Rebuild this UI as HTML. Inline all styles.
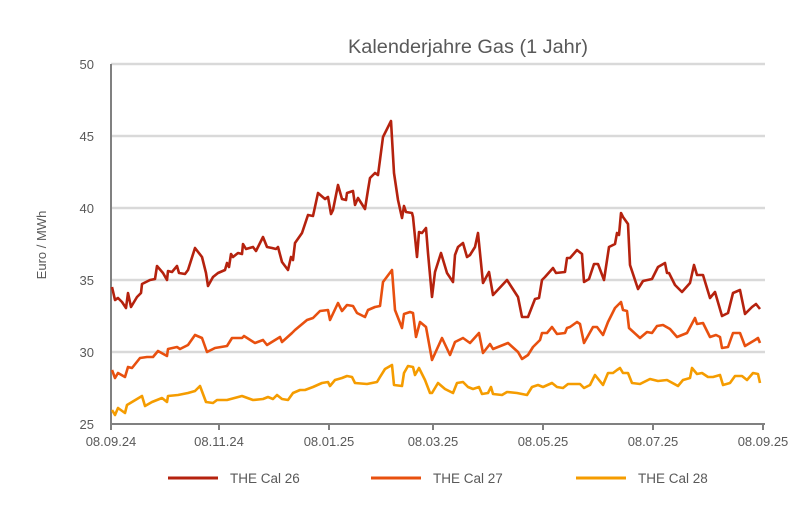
<!DOCTYPE html>
<html><head><meta charset="utf-8"><style>
body{margin:0;background:#fff}
svg text{font-family:"Liberation Sans",sans-serif;fill:#595959}
</style></head><body>
<svg width="802" height="506" viewBox="0 0 802 506" xmlns="http://www.w3.org/2000/svg">
<rect width="802" height="506" fill="#fff"/>
<text x="468" y="53" font-size="19" text-anchor="middle" textLength="240" lengthAdjust="spacingAndGlyphs">Kalenderjahre Gas (1 Jahr)</text>
<g stroke="#d9d9d9" stroke-width="2.5">
<line x1="111" y1="64" x2="765" y2="64"/><line x1="111" y1="136" x2="765" y2="136"/>
<line x1="111" y1="208" x2="765" y2="208"/><line x1="111" y1="280" x2="765" y2="280"/>
<line x1="111" y1="352" x2="765" y2="352"/>
</g>
<g stroke="#808080" stroke-width="2">
<line x1="111" y1="64" x2="111" y2="425"/><line x1="110" y1="424" x2="765" y2="424"/>
<line x1="111" y1="424" x2="111" y2="430"/><line x1="219" y1="424" x2="219" y2="430"/>
<line x1="329" y1="424" x2="329" y2="430"/><line x1="433" y1="424" x2="433" y2="430"/>
<line x1="543" y1="424" x2="543" y2="430"/><line x1="653" y1="424" x2="653" y2="430"/>
<line x1="763" y1="424" x2="763" y2="430"/>
</g>
<g font-size="13" text-anchor="end">
<text x="94" y="69">50</text><text x="94" y="141">45</text><text x="94" y="213">40</text>
<text x="94" y="285">35</text><text x="94" y="357">30</text><text x="94" y="429">25</text>
</g>
<g font-size="13" text-anchor="middle">
<text x="111" y="446">08.09.24</text><text x="219" y="446">08.11.24</text><text x="329" y="446">08.01.25</text>
<text x="433" y="446">08.03.25</text><text x="543" y="446">08.05.25</text><text x="653" y="446">08.07.25</text>
<text x="763" y="446">08.09.25</text>
</g>
<text transform="translate(46,245) rotate(-90)" font-size="13" text-anchor="middle">Euro / MWh</text>
<g fill="none" stroke-width="2.6" stroke-linejoin="round">
<polyline stroke="#f59c00" points="112,410 115,415 118,408 125,413 127,405 132,402 142,396 145,406 152,402 162,398 167,402 168,396 178,395 188,393 195,391 200,386 206,402 213,403 217,400 227,400 242,396 253,400 263,399 268,397 273,399 277,395 282,399 288,400 293,393 300,390 305,390 313,387 322,383 328,382 330,386 335,380 342,378 347,376 352,377 355,383 367,384 377,382 380,377 385,369 392,365 394,385 402,386 404,373 408,366 413,367 415,375 419,368 425,380 430,393 432,393 438,383 445,389 453,393 457,383 463,382 468,387 473,389 479,387 482,394 488,393 491,387 493,394 502,395 507,392 517,393 527,395 532,387 538,385 543,387 552,383 557,387 563,388 568,384 580,384 584,388 590,385 595,375 603,385 608,373 613,373 617,370 620,368 623,373 628,373 632,383 640,384 650,379 658,381 667,380 678,386 683,380 690,378 692,368 697,374 702,373 708,377 713,377 720,375 723,385 730,383 735,376 742,376 747,380 753,373 758,374 760,383"/>
<polyline stroke="#e8500f" points="112,370 115,378 118,373 125,377 128,367 132,368 140,358 147,357 153,357 158,351 167,356 168,349 177,347 180,349 188,345 195,335 202,338 207,352 215,348 227,346 232,338 242,338 244,336 255,343 263,340 267,345 280,337 282,342 292,333 295,330 307,320 313,318 320,311 328,310 330,320 338,303 342,311 347,305 353,306 357,313 365,317 368,310 375,307 380,306 383,282 392,270 395,310 402,328 404,314 410,312 413,313 416,337 420,322 426,327 432,360 442,338 450,355 455,342 463,338 470,343 479,333 483,353 490,344 493,349 508,343 518,352 522,359 528,355 533,347 540,340 542,333 547,333 552,327 557,334 565,333 567,328 570,327 577,322 580,324 584,343 593,327 597,327 603,335 608,322 615,308 621,302 623,310 627,311 629,328 640,338 647,332 652,333 657,326 663,325 670,329 677,337 687,333 695,318 697,324 703,323 710,337 716,335 720,337 722,348 728,347 733,333 740,333 745,346 755,340 758,338 760,343"/>
<polyline stroke="#b5220e" points="112,287 115,300 118,298 122,302 126,308 128,293 131,307 137,297 141,293 142,284 150,280 155,279 157,266 163,273 167,280 168,271 172,272 177,266 179,273 185,274 188,270 195,248 202,257 206,273 208,286 213,277 218,273 225,270 227,263 229,267 231,254 233,257 238,253 242,254 243,244 246,249 253,247 256,251 263,237 267,247 272,248 276,249 278,247 282,262 288,270 291,257 293,260 295,243 302,233 308,215 313,216 318,193 325,199 328,197 331,214 333,210 338,185 342,199 346,200 347,193 353,191 355,205 358,198 365,209 368,190 370,178 375,173 378,175 383,137 391,121 394,173 398,200 402,218 404,206 406,212 412,213 413,217 417,257 419,232 422,233 426,228 428,253 432,297 435,272 441,253 447,273 453,282 455,255 458,247 463,243 467,257 470,255 475,247 478,233 483,283 489,272 493,295 507,280 518,297 522,317 528,317 535,299 539,298 542,280 545,277 553,268 556,273 565,272 567,258 570,258 577,250 582,254 584,282 589,279 594,264 598,264 604,280 609,247 615,244 617,233 619,235 621,213 623,217 628,224 630,265 638,289 643,281 652,279 658,267 665,263 667,273 669,273 675,285 682,292 690,283 694,265 697,275 703,275 710,298 715,292 722,316 728,313 733,293 740,290 745,314 752,307 756,304 760,309"/>
</g>
<g stroke-width="3">
<line x1="168" y1="478" x2="218" y2="478" stroke="#b5220e"/>
<line x1="371" y1="478" x2="421" y2="478" stroke="#e8500f"/>
<line x1="576" y1="478" x2="626" y2="478" stroke="#f59c00"/>
</g>
<g font-size="13.5">
<text x="230" y="483">THE Cal 26</text><text x="433" y="483">THE Cal 27</text><text x="638" y="483">THE Cal 28</text>
</g>
</svg>
</body></html>
